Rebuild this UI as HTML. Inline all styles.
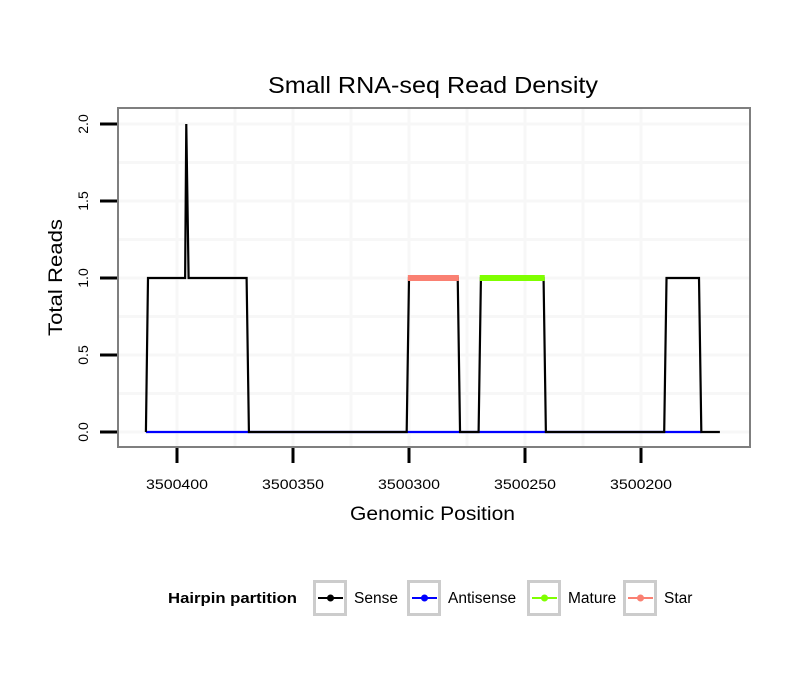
<!DOCTYPE html>
<html><head><meta charset="utf-8"><style>body{margin:0;background:#fff}svg{display:block;font-family:"Liberation Sans",sans-serif}</style></head>
<body>
<svg id="c" width="810" height="690"></svg>
<script>
const xTicks=[3500400,3500350,3500300,3500250,3500200];
const yTicks=[0,0.5,1,1.5,2];
const yTickLabels=["0.0","0.5","1.0","1.5","2.0"];
const sensePos=[3500413.4,3500412.5,3500396.5,3500396,3500395,3500370,3500369,3500301,3500300,3500279,3500278,3500270,3500269,3500242,3500241,3500190,3500189,3500175,3500174,3500166];
const senseVal=[0,1,1,2,1,1,0,0,1,1,0,0,1,1,0,0,1,1,0,0];
const antiPos=[3500413.4,3500174];
const antiVal=[0,0];
const starPos=[3500300.5,3500278.5];
const starVal=[1,1];
const maturePos=[3500269.5,3500241.5];
const matureVal=[1,1];
const legendLabels=["Sense","Antisense","Mature","Star"];
const legendColors=["#000","#0000ff","#7fff00","#fa8072"];

const NS="http://www.w3.org/2000/svg",svg=document.getElementById('c');
function el(t,a,p){const e=document.createElementNS(NS,t);for(const k in a)e.setAttribute(k,a[k]);(p||svg).appendChild(e);return e;}
const X=v=>177+(3500400-v)*2.32;
const Y=v=>432-v*154;
const L=118,R=750,T=108,B=447;
let e;
e=el('rect',{x:L,y:T,width:R-L,height:B-T,fill:'#fff'});


for(let i=0;i<xTicks.length;i++){const xs=[X(xTicks[i])];if(i<xTicks.length-1)xs.push((X(xTicks[i])+X(xTicks[i+1]))/2);
 xs.forEach(x=>{const g=el('line',{x1:x,x2:x,y1:T,y2:B,stroke:'#f7f7f7','stroke-width':3});});}
for(let i=0;i<yTicks.length;i++){const ys=[Y(yTicks[i])];if(i<yTicks.length-1)ys.push((Y(yTicks[i])+Y(yTicks[i+1]))/2);
 ys.forEach(y=>{const g=el('line',{x1:L,x2:R,y1:y,y2:y,stroke:'#f7f7f7','stroke-width':3});});}
function line(pos,val,col,w,name){const pts=pos.map((p,i)=>X(p)+','+Y(val[i])).join(' ');const l=el('polyline',{points:pts,fill:'none',stroke:col,'stroke-width':w,'stroke-linejoin':'miter'});}
line(antiPos,antiVal,'#0000ff',2.2,'antisense-line');
line(sensePos,senseVal,'#000',2.2,'sense-line');
line(starPos,starVal,'#fa8072',6,'star-line');
line(maturePos,matureVal,'#7fff00',6,'mature-line');
e=el('rect',{x:L,y:T,width:R-L,height:B-T,fill:'none',stroke:'#7f7f7f','stroke-width':2});


xTicks.forEach(v=>{const x=X(v);const t=el('line',{x1:x,x2:x,y1:B+1,y2:B+16,stroke:'#000','stroke-width':3});
 const tx=el('text',{x:x-31,y:489,'font-size':13.5,textLength:62,lengthAdjust:'spacingAndGlyphs'});tx.textContent=v;});
yTicks.forEach((v,i)=>{const y=Y(v);const t=el('line',{x1:100,x2:L-1,y1:y,y2:y,stroke:'#000','stroke-width':3});
 const tx=el('text',{x:0,y:0,'text-anchor':'middle','font-size':14,transform:`translate(88,${y}) rotate(-90)`});tx.textContent=yTickLabels[i];});
e=el('text',{x:268,y:93,'font-size':23,textLength:330,lengthAdjust:'spacingAndGlyphs'});e.textContent='Small RNA-seq Read Density';


e=el('text',{x:350,y:520,'font-size':19,textLength:165,lengthAdjust:'spacingAndGlyphs'});e.textContent='Genomic Position';


e=el('text',{x:0,y:0,'font-size':19,textLength:117,lengthAdjust:'spacingAndGlyphs',transform:'translate(62,336) rotate(-90)'});e.textContent='Total Reads';


e=el('text',{x:168,y:603,'font-size':15,'font-weight':'bold',textLength:129,lengthAdjust:'spacingAndGlyphs'});e.textContent='Hairpin partition';


const lx=[313,407,527,623];
legendLabels.forEach((lab,i)=>{const g=el('g',{});
 el('rect',{x:lx[i]+1.5,y:581.5,width:31,height:33,fill:'#fff',stroke:'#cccccc','stroke-width':3},g);
 el('line',{x1:lx[i]+5,x2:lx[i]+30,y1:598,y2:598,stroke:legendColors[i],'stroke-width':2},g);
 el('circle',{cx:lx[i]+17.5,cy:598,r:3.5,fill:legendColors[i]},g);
 const t=el('text',{x:lx[i]+41,y:603,'font-size':15.5},g);t.textContent=lab;});
</script>
</body></html>
